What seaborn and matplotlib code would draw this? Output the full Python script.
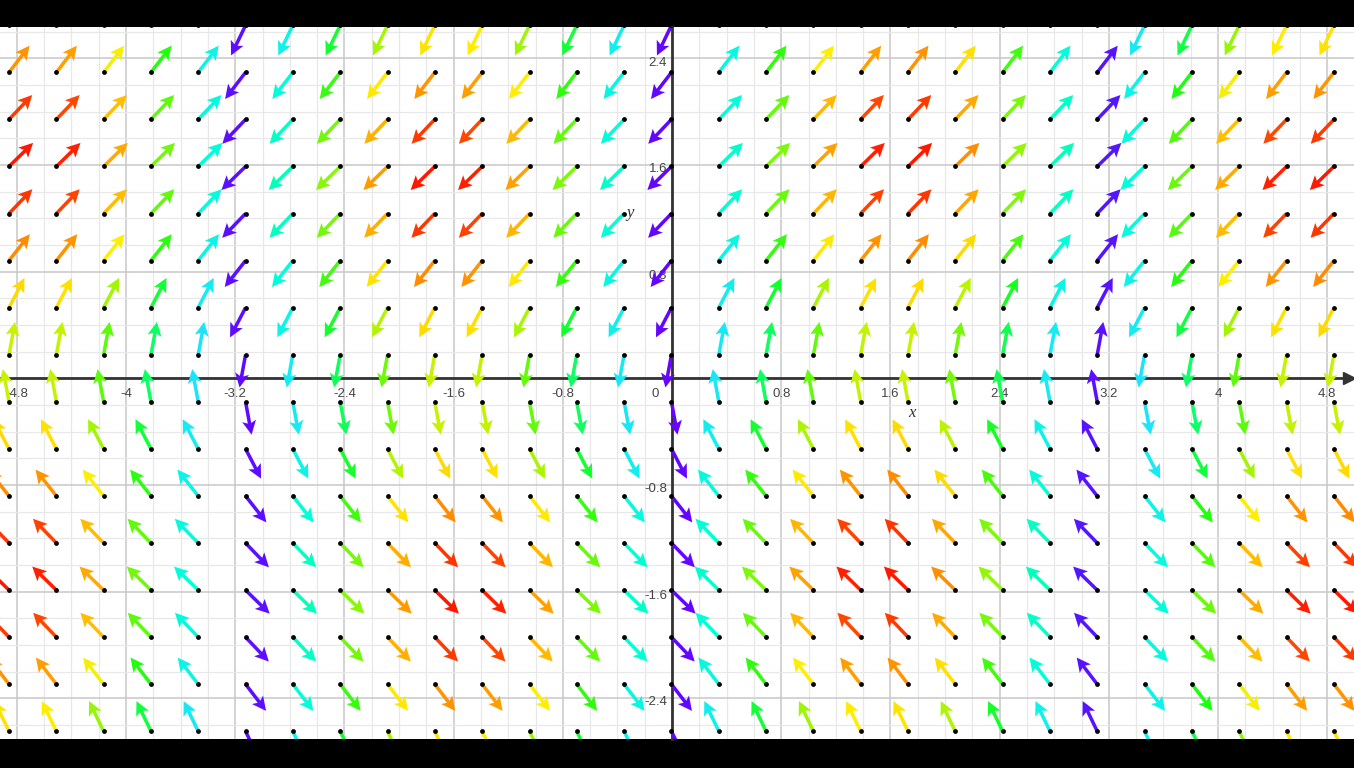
import numpy as np
import pandas as pd
import matplotlib
matplotlib.use('Agg')
import matplotlib.pyplot as plt
import seaborn as sns
from matplotlib.colors import LinearSegmentedColormap, Normalize
from matplotlib.ticker import MultipleLocator

# grid of the field
col_x = [-4.857, -4.510, -4.164, -3.817, -3.471, -3.124, -2.778, -2.431, -2.084, -1.738,
         -1.391, -1.044, -0.698, -0.351, -0.004, 0.343, 0.689, 1.036, 1.382, 1.729,
         2.075, 2.422, 2.769, 3.115, 3.462, 3.809, 4.155, 4.502, 4.849]
row_y = [-2.648, -2.295, -1.942, -1.589, -1.236, -0.883, -0.530, -0.177,
         0.177, 0.530, 0.883, 1.236, 1.589, 1.942, 2.295, 2.648]

# signed strength of each column (sign = up/down, size = colour)
col_strength = [0.99, 0.98, 0.85, 0.63, 0.32, -0.02, -0.36, -0.65, -0.87, -0.99,
                -0.98, -0.86, -0.64, -0.34, -0.01, 0.34, 0.64, 0.86, 0.98, 0.99,
                0.88, 0.66, 0.36, 0.03, -0.32, -0.62, -0.85, -0.98, -0.99]
# sideways lean of each row (horizontal / vertical part of the arrows)
row_lean = [-0.47, -0.75, -0.93, -1.00, -0.94, -0.77, -0.51, -0.18,
            0.18, 0.51, 0.77, 0.94, 1.00, 0.93, 0.75, 0.47]

x_label_vals = [-4.8, -4.0, -3.2, -2.4, -1.6, -0.8, 0.8, 1.6, 2.4, 3.2, 4.0, 4.8]
x_label_text = ['-4.8', '-4', '-3.2', '-2.4', '-1.6', '-0.8', '0.8', '1.6', '2.4', '3.2', '4', '4.8']
y_label_vals = [-2.4, -1.6, -0.8, 0.8, 1.6, 2.4]
y_label_text = ['-2.4', '-1.6', '-0.8', '0.8', '1.6', '2.4']

ARROW_LEN = 0.25

sns.set_style('white')
plt.rcParams['font.family'] = ['Liberation Sans', 'DejaVu Sans']

# build the field table
X, Y = np.meshgrid(col_x, row_y)
S, L = np.meshgrid(col_strength, row_lean)
df = pd.DataFrame({'x': X.ravel(), 'y': Y.ravel(),
                   'u': (S * L).ravel(), 'v': S.ravel()})
df['mag'] = np.hypot(df['u'], df['v'])

# rainbow from purple (weak) to red (strong)
cmap = LinearSegmentedColormap.from_list('grapher', [
    (0.0, '#6a00ff'), (0.08, '#2a40ff'), (0.22, '#20e0ff'), (0.33, '#00ffd8'),
    (0.55, '#18ff10'), (0.77, '#ffee00'), (0.88, '#ff9a00'), (1.0, '#ff1800')])
norm = Normalize(0, df['mag'].max())

fig = plt.figure(figsize=(13.54, 7.68), dpi=100, facecolor='black')
ax = fig.add_axes([0, 0.0374, 1, 0.9274])
ax.set_facecolor('white')
ax.set_xlim(-4.923, 4.996)
ax.set_ylim(-2.708, 2.635)

# grid
ax.xaxis.set_major_locator(MultipleLocator(0.8))
ax.yaxis.set_major_locator(MultipleLocator(0.8))
ax.xaxis.set_minor_locator(MultipleLocator(0.2))
ax.yaxis.set_minor_locator(MultipleLocator(0.2))
ax.grid(which='minor', color='#e8e8e8', lw=0.9)
ax.grid(which='major', color='#c8c8c8', lw=1.1)
ax.set_axisbelow(True)

# axes through the origin
for side in ['top', 'right']:
    ax.spines[side].set_visible(False)
for side in ['left', 'bottom']:
    ax.spines[side].set_position(('data', 0))
    ax.spines[side].set_color('#333333')
    ax.spines[side].set_linewidth(2)
    ax.spines[side].set_zorder(2.5)
ax.tick_params(which='major', direction='inout', length=8, width=1.6, color='#333333',
               labelbottom=False, labelleft=False)
ax.tick_params(which='minor', direction='inout', length=5, width=1.6, color='#333333')
ax.plot(0.9965, 0, marker='>', ms=9, color='#333333', transform=ax.get_yaxis_transform(),
        clip_on=False, zorder=2.6)

# tick labels, under the arrows
for v, t in zip(x_label_vals, x_label_text):
    ax.annotate(t, (v, 0), xytext=(0, -11), textcoords='offset points', ha='center',
                va='center', fontsize=9.5, color='#444444', zorder=2)
for v, t in zip(y_label_vals, y_label_text):
    ax.annotate(t, (0, v), xytext=(-3.5, -3), textcoords='offset points', ha='right',
                va='center', fontsize=9.5, color='#444444', zorder=2)
ax.annotate('0', (0, 0), xytext=(-12, -11), textcoords='offset points', ha='center',
            va='center', fontsize=9.5, color='#444444', zorder=2)
ax.text(1.756, -0.26, 'x', family='Liberation Serif', style='italic', fontsize=12,
        ha='center', va='center', color='#333333', zorder=2)
ax.text(-0.31, 1.24, 'y', family='Liberation Serif', style='italic', fontsize=12,
        ha='center', va='center', color='#333333', zorder=2)

# arrows: fixed length, colour by strength
ax.quiver(df['x'], df['y'], df['u'] / df['mag'] * ARROW_LEN, df['v'] / df['mag'] * ARROW_LEN,
          df['mag'], cmap=cmap, norm=norm, angles='xy', scale_units='xy', scale=1,
          units='dots', width=3.5, headwidth=4.0, headlength=4.0, headaxislength=3.3,
          zorder=3)
sns.scatterplot(data=df, x='x', y='y', color='black', s=12, linewidth=0, zorder=4,
                legend=False, ax=ax)
ax.set_xlabel('')
ax.set_ylabel('')

fig.savefig('out.png', dpi=100, facecolor='black')
